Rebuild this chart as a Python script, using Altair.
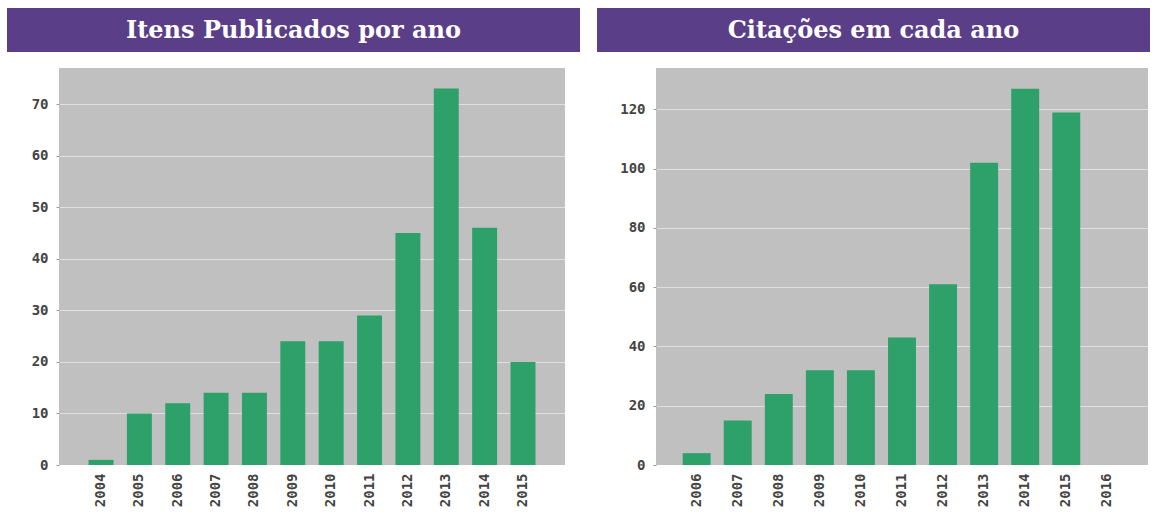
import altair as alt
import pandas as pd

# ---- data ----
years_pub = ["2004", "2005", "2006", "2007", "2008", "2009", "2010", "2011", "2012", "2013", "2014", "2015"]
pub_counts = [1, 10, 12, 14, 14, 24, 24, 29, 45, 73, 46, 20]

years_cit = ["2006", "2007", "2008", "2009", "2010", "2011", "2012", "2013", "2014", "2015", "2016"]
cit_counts = [4, 15, 24, 32, 32, 43, 61, 102, 127, 119, 0]

title_pub = "Itens Publicados por ano"
title_cit = "Citações em cada ano"

PURPLE = "#5a3e87"
GREEN = "#2ea069"
GRAY = "#c0c0c0"
LABEL = "#444444"


def panel(years, counts, title, width, ymax, ystep, pad_in, pad_out, b_left, b_right):
    df = pd.DataFrame({"year": years, "count": counts})
    bars = alt.Chart(df).mark_bar(color=GREEN).encode(
        x=alt.X(
            "year:N",
            sort=years,
            title=None,
            scale=alt.Scale(paddingInner=pad_in, paddingOuter=pad_out),
            axis=alt.Axis(
                labelAngle=-90,
                labelFont="DejaVu Sans Mono",
                labelFontSize=14,
                labelFontWeight="bold",
                labelColor=LABEL,
                ticks=False,
                domain=False,
                grid=False,
                labelPadding=8,
            ),
        ),
        y=alt.Y(
            "count:Q",
            title=None,
            scale=alt.Scale(domain=[0, ymax], nice=False),
            axis=alt.Axis(
                values=list(range(0, ymax + 1, ystep)),
                labelFont="DejaVu Sans Mono",
                labelFontSize=14,
                labelFontWeight="bold",
                labelColor=LABEL,
                grid=True,
                gridColor="white",
                gridOpacity=0.5,
                domain=False,
                tickSize=3,
                tickColor="#999999",
                labelPadding=8,
            ),
        ),
    )
    bdf = pd.DataFrame({"t": [title]})
    banner = alt.Chart(bdf).mark_rect(color=PURPLE).encode(
        x=alt.value(b_left), x2=alt.value(b_right), y=alt.value(-60), y2=alt.value(-16)
    )
    text = alt.Chart(bdf).mark_text(
        color="white", font="DejaVu Serif", fontSize=24, fontWeight="bold", baseline="middle"
    ).encode(x=alt.value((b_left + b_right) / 2), y=alt.value(-37), text="t:N")
    return alt.layer(banner, text, bars).properties(width=width, height=397)


left = panel(years_pub, pub_counts, title_pub, 506, 77, 10, 0.35, 0.77, -52, 521)
right = panel(years_cit, cit_counts, title_cit, 492, 134, 20, 0.32, 0.65, -59, 494)

chart = (
    alt.hconcat(left, right, spacing=17)
    .properties(padding={"left": 7, "top": 8, "right": 0, "bottom": 0}, background="white")
    .configure_view(fill=GRAY, stroke=None)
)

chart.save("out.html", embed_options={"renderer": "svg", "actions": False})
